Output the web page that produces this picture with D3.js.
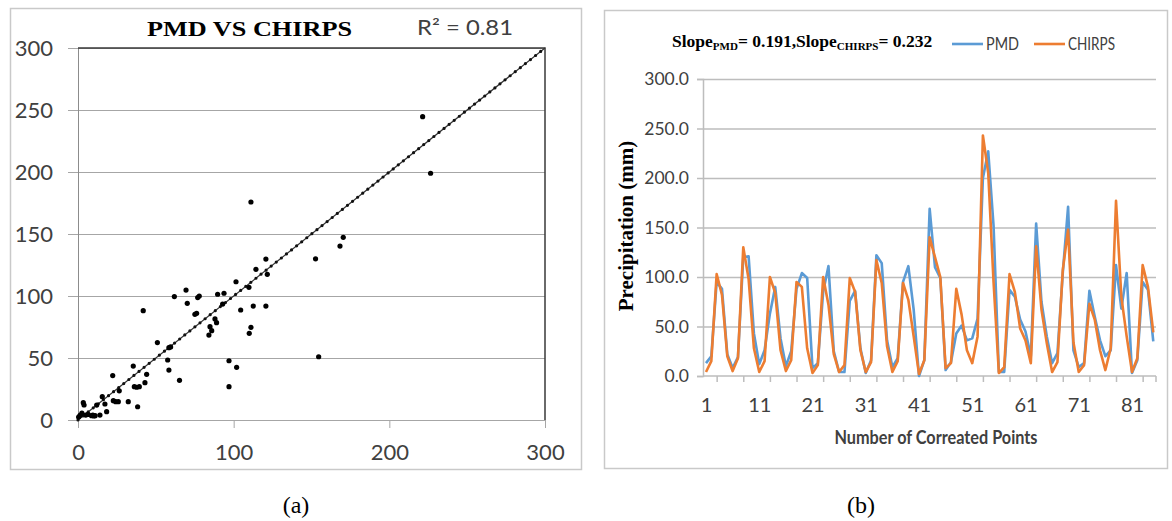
<!DOCTYPE html>
<html>
<head>
<meta charset="utf-8">
<script src="https://cdn.jsdelivr.net/npm/d3@7"></script>
<style>
  body { margin: 0; background: #fff; }
  svg { display: block; }
</style>
</head>
<body>
<svg id="chart" width="1172" height="521"></svg>
<script>
// (a) scatter
const scatterX = [0.4,1.3,2.5,3.4,3.9,5,6.5,8.7,9.5,10.2,11,12,14.1,15.6,17.3,18.4,22.3,22.7,24.2,25.9,26.5,32.3,35.5,36.2,37.7,39.4,38.3,41.9,43,44.1,51,57.6,58.4,58.4,59.5,65.2,61.9,69.4,70.2,75.1,76.2,76.9,77.9,84.1,84.8,85.9,88,89,89.7,92.9,93.8,97,97,101.5,101.9,104.5,109.8,110,111.1,111.1,112.6,114.3,120.7,121.6,120.7,152.6,154.6,168.3,170.4,221.4,226.5];
const scatterY = [2.4,3.8,5.6,14,12.1,4,4.5,3.5,4,3.3,3.5,12,4,18.8,12.9,6.7,35.8,15.6,14.8,14.8,23.5,14.8,43.5,26.9,26.4,26.9,10.7,88.2,30.1,36.8,62.4,48.4,40.3,58.3,58.9,32,99.5,104.8,94.1,85.2,86,98.7,100,68.5,75.3,72,81.5,78.5,101.4,93.5,102.2,47.8,26.9,111.5,42.5,88.7,107,69.9,74.7,175.8,91.9,121.5,129.8,117.5,91.9,130,51,140.3,147.3,244.6,199];
const scatterYTicks = [0,50,100,150,200,250,300];
const scatterXTicks = [0,100,200,300];

// (b) series per correlated point
const pmd = [13,20,95,88,22,8,19,120,121,43,12,26,63,90,38,10,25,88,104,99,8,13,85,111,25,4,4,76,86,28,3,16,122,114,36,9,18,95,111,67,0,16,169,110,99,6,14,43,51,36,38,58,200,227,152,4,4,87,80,57,45,20,154,75,40,13,23,104,171,26,9,13,86,60,36,20,26,112,68,104,3,16,95,87,35];
const chirps = [4,15,103,82,20,5,18,130,98,28,4,15,100,84,26,5,16,95,90,28,3,11,100,72,22,4,11,99,85,26,4,14,117,94,30,4,15,94,77,40,2,16,140,120,100,8,13,88,62,26,13,40,243,205,95,3,9,103,85,48,36,13,131,67,33,4,14,107,148,34,4,11,73,57,26,6,28,177,80,40,4,18,112,90,44];
const seriesNames = ["PMD", "CHIRPS"];
const seriesColors = ["#5b9bd5", "#ed7d31"];
const lineYTicks = [0,50,100,150,200,250,300];
const lineXLabels = [1,11,21,31,41,51,61,71,81];
const lineXTicks = [3,8,13,18,23,28,33,38,43,48,53,58,63,68,73,78,83];

const svg = d3.select("#chart");
const sans = "Lato, 'Open Sans', sans-serif";
const serif = "'Liberation Serif', 'Times New Roman', serif";

// panel frames
svg.append("rect").attr("x", 10.5).attr("y", 8.5).attr("width", 571).attr("height", 461)
  .attr("fill", "none").attr("stroke", "#c9c9c9").attr("stroke-width", 1.5);
svg.append("rect").attr("x", 604.5).attr("y", 10.5).attr("width", 563).attr("height", 458)
  .attr("fill", "none").attr("stroke", "#c9c9c9").attr("stroke-width", 1.5);

// ---------- (a) ----------
const xA = d3.scaleLinear().domain([0, 300]).range([78, 545]);
const yA = d3.scaleLinear().domain([0, 300]).range([420, 48]);
const a = svg.append("g");

// grid
a.append("g").attr("transform", "translate(78,0)")
  .call(d3.axisLeft(yA).tickValues(scatterYTicks).tickSize(-(545 - 78)).tickFormat(""))
  .call(g => g.select(".domain").remove())
  .call(g => g.selectAll("line").attr("stroke", "#a6a6a6"));

// y axis
a.append("g").attr("transform", "translate(78,0)")
  .call(d3.axisLeft(yA).tickValues(scatterYTicks).tickSize(10).tickPadding(15))
  .call(g => g.select(".domain").attr("stroke", "#8c8c8c"))
  .call(g => g.selectAll("line").attr("stroke", "#a6a6a6"))
  .call(g => g.selectAll("text").attr("font-family", sans).attr("font-size", 22).attr("fill", "#404040"));

// x axis
a.append("g").attr("transform", "translate(0,420)")
  .call(d3.axisBottom(xA).tickValues(scatterXTicks).tickSize(8).tickPadding(16))
  .call(g => g.select(".domain").attr("stroke", "#a6a6a6"))
  .call(g => g.selectAll("line").attr("stroke", "#a6a6a6"))
  .call(g => g.selectAll("text").attr("font-family", sans).attr("font-size", 22).attr("fill", "#404040"));

// dark top and right border
a.append("path")
  .attr("d", `M${xA(0)},${yA(300)}H${xA(300)}V${yA(0)}`)
  .attr("fill", "none").attr("stroke", "#3a3a3a").attr("stroke-width", 1.5);

// 1:1 line, dotted
const oneToOne = d3.line().x(d => xA(d)).y(d => yA(d));
a.append("path").datum(xA.domain()).attr("d", oneToOne)
  .attr("stroke", "#333").attr("stroke-width", 1.2).attr("fill", "none");
a.append("path").datum(xA.domain()).attr("d", oneToOne)
  .attr("stroke", "#111").attr("stroke-width", 3.2).attr("fill", "none")
  .attr("stroke-linecap", "round").attr("stroke-dasharray", "0,6.5");

a.append("g").selectAll("circle")
  .data(scatterX.map((x, i) => [x, scatterY[i]]))
  .join("circle")
  .attr("cx", d => xA(d[0])).attr("cy", d => yA(d[1])).attr("r", 2.6)
  .attr("fill", "#000");

a.append("text").attr("x", 147).attr("y", 36)
  .attr("font-family", serif).attr("font-weight", "bold").attr("font-size", 22)
  .attr("textLength", 205).attr("lengthAdjust", "spacingAndGlyphs")
  .text("PMD VS CHIRPS");
a.append("text").attr("x", 417).attr("y", 35)
  .attr("font-family", sans).attr("font-size", 21).attr("fill", "#404040")
  .attr("textLength", 96).attr("lengthAdjust", "spacingAndGlyphs")
  .text("R² = 0.81");

// ---------- (b) ----------
const xB = d3.scaleLinear().domain([1, pmd.length]).range([706, 706 + (pmd.length - 1) * 5.325]);
const yB = d3.scaleLinear().domain([0, 300]).range([376, 79]);
const bLeft = 703, bRight = 1156;
const b = svg.append("g");

b.append("g").attr("transform", `translate(${bLeft},0)`)
  .call(d3.axisLeft(yB).tickValues(lineYTicks.slice(1)).tickSize(-(bRight - bLeft)).tickFormat(""))
  .call(g => g.select(".domain").remove())
  .call(g => g.selectAll("line").attr("stroke", "#bdbdbd").attr("stroke-width", 1.5));

b.append("g").attr("transform", `translate(${bLeft},0)`)
  .call(d3.axisLeft(yB).tickValues(lineYTicks).tickSize(6).tickPadding(8).tickFormat(d3.format(".1f")))
  .call(g => g.select(".domain").attr("stroke", "#bdbdbd").attr("stroke-width", 1.5))
  .call(g => g.selectAll("line").attr("stroke", "#bdbdbd").attr("stroke-width", 1.5))
  .call(g => g.selectAll("text").attr("font-family", sans).attr("font-size", 17.5).attr("fill", "#404040"));

// x axis line and ticks
b.append("line").attr("x1", bLeft).attr("x2", bRight).attr("y1", yB(0)).attr("y2", yB(0))
  .attr("stroke", "#bdbdbd").attr("stroke-width", 1.5);
b.append("g").attr("transform", `translate(0,${yB(0)})`)
  .call(d3.axisBottom(xB).tickValues(lineXTicks).tickSize(6).tickFormat(""))
  .call(g => g.select(".domain").remove())
  .call(g => g.selectAll("line").attr("stroke", "#bdbdbd").attr("stroke-width", 1.5));
b.append("line").attr("x1", bRight).attr("x2", bRight).attr("y1", yB(0)).attr("y2", yB(0) + 6)
  .attr("stroke", "#bdbdbd").attr("stroke-width", 1.5);
b.append("g").attr("transform", `translate(0,${yB(0)})`)
  .call(d3.axisBottom(xB).tickValues(lineXLabels).tickSize(0).tickPadding(22))
  .call(g => g.select(".domain").remove())
  .call(g => g.selectAll("text").attr("font-family", sans).attr("font-size", 20).attr("fill", "#404040"));

const lineGen = d3.line().x((d, i) => xB(i + 1)).y(d => yB(d));
[pmd, chirps].forEach((s, k) => {
  b.append("path").datum(s).attr("d", lineGen)
    .attr("fill", "none").attr("stroke", seriesColors[k]).attr("stroke-width", 2.6)
    .attr("stroke-linejoin", "round");
});

// title with subscripts
const t = b.append("text").attr("x", 672).attr("y", 47)
  .attr("font-family", serif).attr("font-weight", "bold").attr("font-size", 17.5);
t.append("tspan").text("Slope");
t.append("tspan").attr("font-size", 11).attr("dy", 3).text("PMD");
t.append("tspan").attr("dy", -3).text("= 0.191,Slope");
t.append("tspan").attr("font-size", 11).attr("dy", 3).text("CHIRPS");
t.append("tspan").attr("dy", -3).text("= 0.232");

// legend
const legendX = [952, 1034];
const legendTextW = [33, 47];
seriesNames.forEach((name, k) => {
  b.append("line").attr("x1", legendX[k]).attr("x2", legendX[k] + 31).attr("y1", 44).attr("y2", 44)
    .attr("stroke", seriesColors[k]).attr("stroke-width", 2.6);
  b.append("text").attr("x", legendX[k] + 34).attr("y", 50)
    .attr("font-family", sans).attr("font-size", 18).attr("fill", "#404040")
    .attr("textLength", legendTextW[k]).attr("lengthAdjust", "spacingAndGlyphs")
    .text(name);
});

b.append("text").attr("transform", "translate(633,226) rotate(-90)")
  .attr("text-anchor", "middle")
  .attr("font-family", serif).attr("font-weight", "bold").attr("font-size", 21)
  .text("Precipitation (mm)");

b.append("text").attr("x", 936).attr("y", 444).attr("text-anchor", "middle")
  .attr("font-family", sans).attr("font-weight", "bold").attr("font-size", 19).attr("fill", "#404040")
  .attr("textLength", 203).attr("lengthAdjust", "spacingAndGlyphs")
  .text("Number of Correated Points");

// captions
svg.append("text").attr("x", 296).attr("y", 513).attr("text-anchor", "middle")
  .attr("font-family", serif).attr("font-size", 24).text("(a)");
svg.append("text").attr("x", 861).attr("y", 513).attr("text-anchor", "middle")
  .attr("font-family", serif).attr("font-size", 24).text("(b)");
</script>
</body>
</html>
